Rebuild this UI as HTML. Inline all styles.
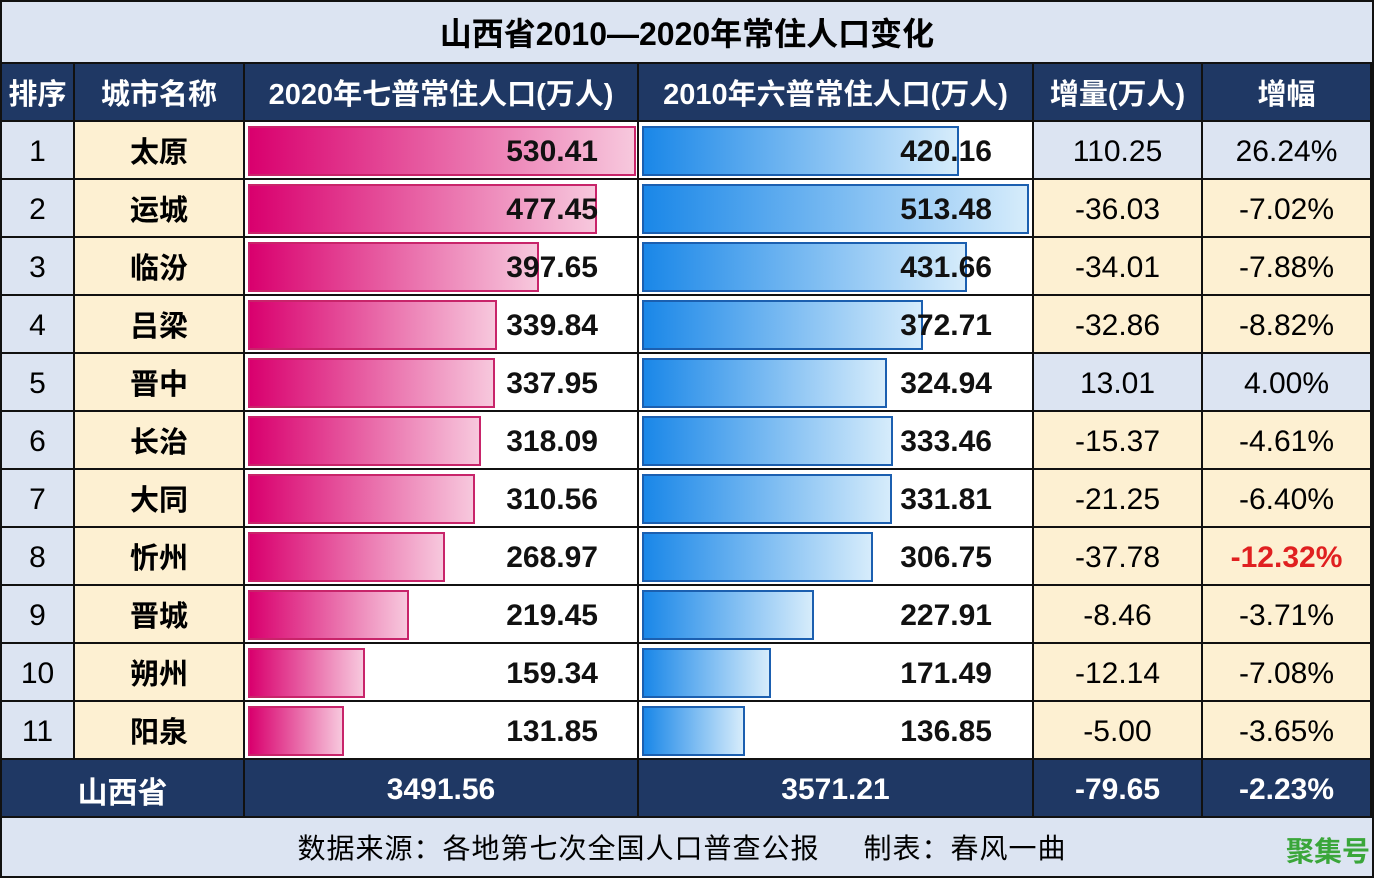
<!DOCTYPE html>
<html><head><meta charset="utf-8"><style>
*{margin:0;padding:0;box-sizing:border-box}
body{width:1374px;height:878px;background:#fff;font-family:"Liberation Sans","Noto Sans CJK SC",sans-serif;position:relative;overflow:hidden}
.c{position:absolute;display:flex;align-items:center;justify-content:center;border-right:2px solid #111;border-bottom:2px solid #111}
.bar{position:absolute;border:2px solid #c8246a}
.pb{background:linear-gradient(90deg,#d9006e,#f7c8dd)}
.bb{background:linear-gradient(90deg,#1a87e8,#d6ecfb);border-color:#1b5fb0}
.num{position:absolute;font-weight:bold;font-size:30px;text-align:right;width:200px;line-height:60px;color:#111}
</style></head><body>
<div style="position:absolute;left:0;top:0;width:1374px;height:878px;border:2px solid #111;background:#fff"></div>
<div class="c" style="left:2px;top:2px;width:1370px;height:62px;background:#dce4f2;font-size:32px;font-weight:bold;border-right:none">山西省2010—2020年常住人口变化</div>
<div id="t"></div>
<script>
const X=[2,75,245,639,1034,1203,1372];
const head=["排序","城市名称","2020年七普常住人口(万人)","2010年六普常住人口(万人)","增量(万人)","增幅"];
let h="";
for(let i=0;i<6;i++)h+=`<div class="c" style="left:${X[i]}px;top:64px;width:${X[i+1]-X[i]}px;height:58px;background:#1f3864;color:#fff;font-size:29px;font-weight:bold">${head[i]}</div>`;
const d=[["太原",530.41,420.16,"110.25","26.24%"],["运城",477.45,513.48,"-36.03","-7.02%"],["临汾",397.65,431.66,"-34.01","-7.88%"],["吕梁",339.84,372.71,"-32.86","-8.82%"],["晋中",337.95,324.94,"13.01","4.00%"],["长治",318.09,333.46,"-15.37","-4.61%"],["大同",310.56,331.81,"-21.25","-6.40%"],["忻州",268.97,306.75,"-37.78","-12.32%"],["晋城",219.45,227.91,"-8.46","-3.71%"],["朔州",159.34,171.49,"-12.14","-7.08%"],["阳泉",131.85,136.85,"-5.00","-3.65%"]];
d.forEach((r,k)=>{const y=122+k*58;const pos=r[3][0]!="-";const ib=pos?"#dce4f2":"#fdf0d2";
h+=`<div class="c" style="left:2px;top:${y}px;width:73px;height:58px;background:#dce4f2;font-size:30px;padding-top:4px">${k+1}</div>`;
h+=`<div class="c" style="left:75px;top:${y}px;width:170px;height:58px;background:#fdf0d2;font-size:29px;font-weight:bold">${r[0]}</div>`;
h+=`<div class="c" style="left:245px;top:${y}px;width:394px;height:58px;background:#fff"></div>`;
h+=`<div class="c" style="left:639px;top:${y}px;width:395px;height:58px;background:#fff"></div>`;
h+=`<div class="bar pb" style="left:248px;top:${y+4}px;width:${r[1]*0.7315}px;height:50px"></div>`;
h+=`<div class="bar bb" style="left:642px;top:${y+4}px;width:${r[2]*0.754}px;height:50px"></div>`;
h+=`<div class="num" style="left:398px;top:${y}px">${r[1].toFixed(2)}</div>`;
h+=`<div class="num" style="left:792px;top:${y}px">${r[2].toFixed(2)}</div>`;
h+=`<div class="c" style="left:1034px;top:${y}px;width:169px;height:58px;background:${ib};font-size:30px;padding-top:4px">${r[3]}</div>`;
h+=`<div class="c" style="left:1203px;top:${y}px;width:169px;height:58px;background:${ib};font-size:30px;padding-top:4px;${k==7?'color:#e02020;font-weight:bold':''}">${r[4]}</div>`;
});
const TX=[2,245,639,1034,1203,1372];const tt=["山西省","3491.56","3571.21","-79.65","-2.23%"];
for(let i=0;i<5;i++)h+=`<div class="c" style="left:${TX[i]}px;top:760px;width:${TX[i+1]-TX[i]}px;height:58px;background:#1f3864;color:#fff;font-size:30px;font-weight:bold;padding-top:4px">${tt[i]}</div>`;
h+=`<div class="c" style="left:2px;top:818px;width:1370px;height:58px;background:#dce4f2;font-size:28px;border:none;letter-spacing:1px;padding-right:10px">数据来源：各地第七次全国人口普查公报&nbsp;&nbsp;&nbsp;&nbsp;&nbsp;制表：春风一曲</div>`;
h+=`<div style="position:absolute;left:1286px;top:830px;font-size:28px;font-weight:bold;color:#3aa63a">聚集号</div>`;
document.getElementById("t").innerHTML=h;
</script>
</body></html>
